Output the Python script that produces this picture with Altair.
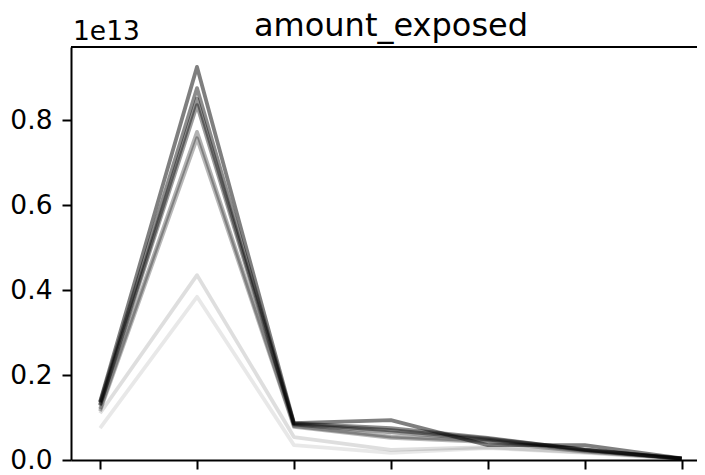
import altair as alt
import pandas as pd

# x positions (categorical steps 0..6)
x_pos = [0, 1, 2, 3, 4, 5, 6]

# series values (in units of 1e13)
s1 = [0.137, 0.925, 0.087, 0.094, 0.035, 0.035, 0.004]
s2 = [0.135, 0.875, 0.086, 0.075, 0.052, 0.024, 0.004]
s3 = [0.130, 0.850, 0.085, 0.070, 0.050, 0.025, 0.003]
s4 = [0.128, 0.835, 0.083, 0.065, 0.048, 0.024, 0.003]
s5 = [0.120, 0.772, 0.080, 0.055, 0.045, 0.022, 0.003]
s6 = [0.115, 0.757, 0.078, 0.052, 0.042, 0.020, 0.003]
s7 = [0.110, 0.435, 0.054, 0.024, 0.030, 0.018, 0.003]
s8 = [0.075, 0.384, 0.035, 0.017, 0.028, 0.017, 0.002]

series = [s1, s2, s3, s4, s5, s6, s7, s8]
alphas = [0.5, 0.45, 0.42, 0.38, 0.3, 0.28, 0.13, 0.09]

y_ticks = [0.0, 0.2, 0.4, 0.6, 0.8]
title_text = "amount_exposed"
offset_text = "1e13"
SCALE = 1e13

rows = []
for i, (vals, a) in enumerate(zip(series, alphas)):
    for xv, v in zip(x_pos, vals):
        rows.append({"x": xv, "value": v * SCALE, "series": f"s{i}", "alpha": a})
df = pd.DataFrame(rows)

W, H = 626, 413
FONT = "DejaVu Sans"

lines = alt.Chart(df).mark_line(strokeWidth=3.8, strokeJoin="round").encode(
    x=alt.X("x:Q", scale=alt.Scale(domain=[-0.3, 6.158], nice=False, zero=False),
            axis=alt.Axis(values=x_pos, labels=False, title=None, grid=False,
                          tickSize=9, tickWidth=2, tickColor="black",
                          domainColor="black", domainWidth=2)),
    y=alt.Y("value:Q", scale=alt.Scale(domain=[0, 0.9718 * SCALE], nice=False, zero=False),
            axis=alt.Axis(values=[t * SCALE for t in y_ticks],
                          labelExpr="format(datum.value/1e13, '.1f')",
                          title=None, grid=False, labelFont=FONT, labelFontSize=26.5,
                          labelColor="black", labelPadding=10,
                          tickSize=9, tickWidth=2, tickColor="black",
                          domainColor="black", domainWidth=2)),
    detail="series:N",
    color=alt.value("black"),
    opacity=alt.Opacity("alpha:Q", scale=None, legend=None),
    order=alt.Order("x:Q"),
)

top_spine = alt.Chart(pd.DataFrame({"a": [0]})).mark_rule(
    color="black", strokeWidth=2
).encode(x=alt.value(0), x2=alt.value(W), y=alt.value(0))

title = alt.Chart(pd.DataFrame({"t": [title_text]})).mark_text(
    font=FONT, fontSize=32, align="center", baseline="alphabetic", color="black"
).encode(x=alt.value(320), y=alt.value(-11), text="t:N")

offset = alt.Chart(pd.DataFrame({"t": [offset_text]})).mark_text(
    font=FONT, fontSize=26.5, align="left", baseline="alphabetic", color="black"
).encode(x=alt.value(2), y=alt.value(-7), text="t:N")

chart = alt.layer(lines, top_spine, title, offset).properties(
    width=W, height=H,
    autosize=alt.AutoSizeParams(type="none"),
    padding={"left": 63, "top": 39, "right": 0, "bottom": 10},
).configure_view(stroke=None)

chart.save("out.html", embed_options={"renderer": "svg", "actions": False})
